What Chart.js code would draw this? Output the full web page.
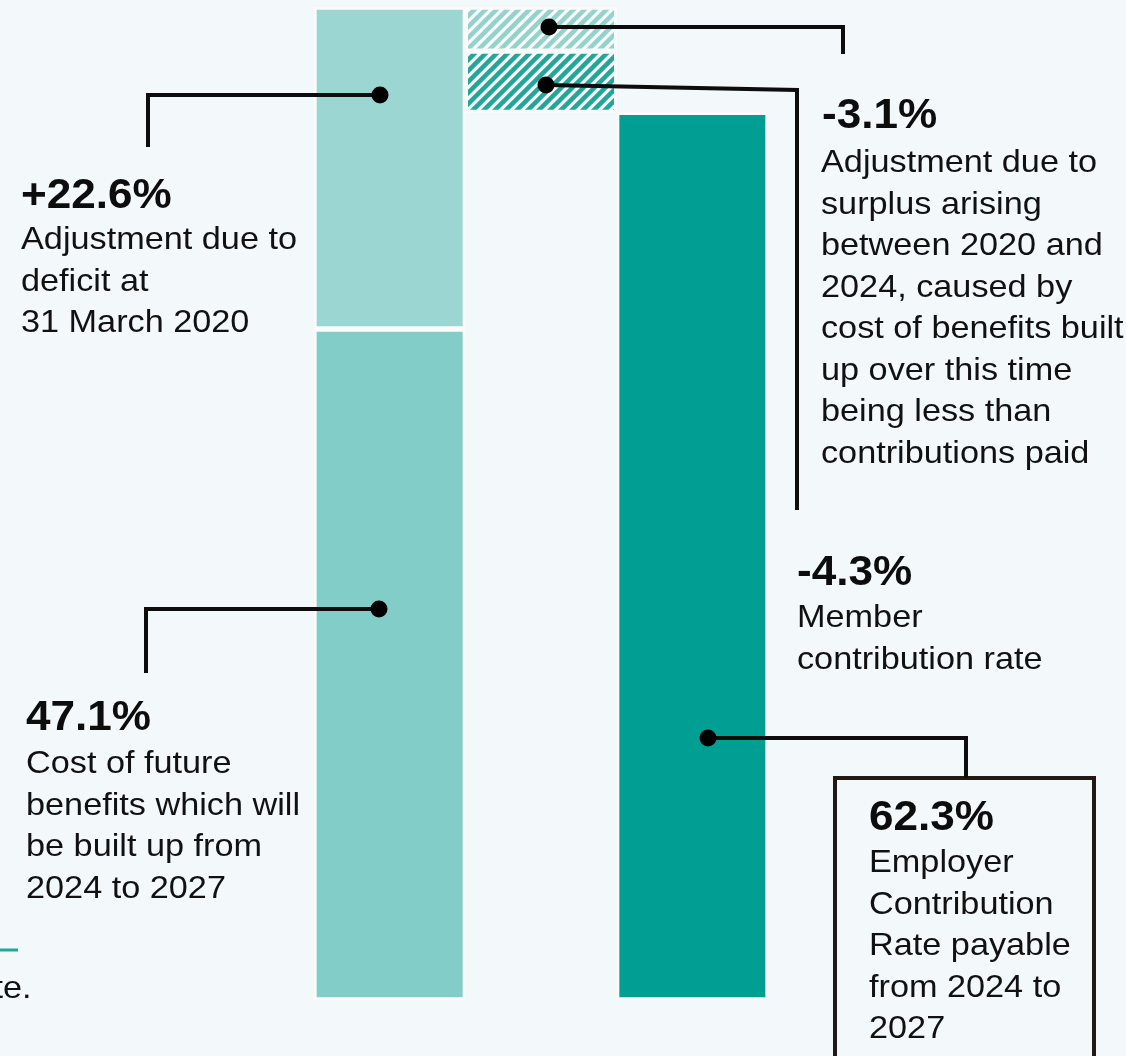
<!DOCTYPE html>
<html>
<head>
<meta charset="utf-8">
<script src="https://cdn.jsdelivr.net/npm/chart.js@4.4.1/dist/chart.umd.min.js"></script>
<style>
  html, body { margin: 0; padding: 0; background: #f3f8fa; overflow: hidden; }
  #wrap { width: 1126px; height: 1056px; }
</style>
</head>
<body>
<div id="wrap"><canvas id="chart" width="1126" height="1056"></canvas></div>
<script>
// ─── Data ─────────────────────────────────────────────────────────────────────

const columns = ['Cost and deficit', 'Adjustments', 'Employer rate'];

const componentNames  = [
  'Cost of future benefits',
  'Adjustment due to deficit',
  'Adjustment due to surplus',
  'Member contribution rate',
  'Employer Contribution Rate',
];
const componentValues = [47.1, 22.6, -3.1, -4.3, 62.3];
const componentColumn = [0, 0, 1, 1, 2];
const componentIsTotal = [false, false, false, false, true];

// ─── Hatch patterns ───────────────────────────────────────────────────────────

function makeHatch(color) {
  const s = 11;
  const c = document.createElement('canvas');
  c.width = s;
  c.height = s;
  const g = c.getContext('2d');
  g.fillStyle = '#fbfbfb';
  g.fillRect(0, 0, s, s);
  g.strokeStyle = color;
  g.lineWidth = 4.5;
  g.beginPath();
  g.moveTo(-2, 2);     g.lineTo(2, -2);
  g.moveTo(0, s);      g.lineTo(s, 0);
  g.moveTo(s - 2, s + 2); g.lineTo(s + 2, s - 2);
  g.stroke();
  return g.createPattern(c, 'repeat');
}

const fills = [
  '#82cdc8',
  '#9bd6d2',
  makeHatch('#93d2cd'),
  makeHatch('#22a69a'),
  '#009e93',
];

// waterfall ranges from the component values
let running = 0;
const ranges = componentValues.map((v, i) => {
  if (componentIsTotal[i]) return [0, v];
  const start = running;
  running = Math.round((running + v) * 10) / 10;
  return [Math.min(start, running), Math.max(start, running)];
});
const topValue = Math.max(...ranges.map(r => r[1]));

const datasets = componentNames.map((name, i) => ({
  label: name,
  data: columns.map((_, c) => (c === componentColumn[i] ? ranges[i] : null)),
  backgroundColor: fills[i],
  borderColor: '#fbfbfb',
  borderWidth: 3,
  borderSkipped: false,
  barPercentage: 1,
  categoryPercentage: 1,
}));

// ─── Callouts ─────────────────────────────────────────────────────────────────

const callouts = [
  { dot: [380, 95],  path: [[148, 95], [148, 147]],
    head: '+22.6%', hx: 21, hy: 208,
    lines: ['Adjustment due to', 'deficit at', '31 March 2020'], lx: 21, ly: 249 },
  { dot: [379, 609], path: [[146, 609], [146, 673]],
    head: '47.1%', hx: 26, hy: 730,
    lines: ['Cost of future', 'benefits which will', 'be built up from', '2024 to 2027'], lx: 26, ly: 773 },
  { dot: [549, 27],  path: [[843, 27], [843, 54]],
    head: '-3.1%', hx: 822, hy: 128,
    lines: ['Adjustment due to', 'surplus arising', 'between 2020 and', '2024, caused by',
            'cost of benefits built', 'up over this time', 'being less than', 'contributions paid'],
    lx: 821, ly: 172 },
  { dot: [546, 85],  path: [[797, 90], [797, 510]],
    head: '-4.3%', hx: 797, hy: 585,
    lines: ['Member', 'contribution rate'], lx: 797, ly: 627 },
  { dot: [708, 738], path: [[966, 738], [966, 778]],
    head: '62.3%', hx: 869, hy: 830,
    lines: ['Employer', 'Contribution', 'Rate payable', 'from 2024 to', '2027'], lx: 869, ly: 872 },
];

function stretchText(ctx, txt, x, y, sx) {
  ctx.save();
  ctx.translate(x, y);
  ctx.scale(sx, 1);
  ctx.fillText(txt, 0, 0);
  ctx.restore();
}

const backgroundPlugin = {
  id: 'pageBackground',
  beforeDraw(chart) {
    const ctx = chart.ctx;
    ctx.save();
    ctx.fillStyle = '#f3f8fa';
    ctx.fillRect(0, 0, chart.width, chart.height);
    ctx.restore();
  },
};

const calloutPlugin = {
  id: 'callouts',
  afterDraw(chart) {
    const ctx = chart.ctx;
    ctx.save();

    // box round the employer rate label
    ctx.strokeStyle = '#231815';
    ctx.lineWidth = 4;
    ctx.strokeRect(835, 778, 259, 400);

    callouts.forEach(c => {
      ctx.strokeStyle = '#0d0d0d';
      ctx.lineWidth = 4;
      ctx.lineJoin = 'miter';
      ctx.beginPath();
      ctx.moveTo(c.dot[0], c.dot[1]);
      c.path.forEach(p => ctx.lineTo(p[0], p[1]));
      ctx.stroke();

      ctx.fillStyle = '#000';
      ctx.beginPath();
      ctx.arc(c.dot[0], c.dot[1], 8.5, 0, Math.PI * 2);
      ctx.fill();

      ctx.textBaseline = 'alphabetic';
      ctx.fillStyle = '#0d0d0d';
      ctx.font = 'bold 42px "Liberation Sans", Arial, sans-serif';
      stretchText(ctx, c.head, c.hx, c.hy, 1.05);

      ctx.fillStyle = '#111';
      ctx.font = '32px "Liberation Sans", Arial, sans-serif';
      c.lines.forEach((t, i) => stretchText(ctx, t, c.lx, c.ly + i * 41.5, 1.07));
    });

    // cropped page fragment at bottom left
    ctx.strokeStyle = '#1ea89c';
    ctx.lineWidth = 3;
    ctx.beginPath();
    ctx.moveTo(0, 950);
    ctx.lineTo(18, 950);
    ctx.stroke();
    ctx.fillStyle = '#111';
    ctx.font = '32px "Liberation Sans", Arial, sans-serif';
    stretchText(ctx, 'te.', -6.5, 998, 1.07);

    ctx.restore();
  },
};

new Chart(document.getElementById('chart'), {
  type: 'bar',
  data: { labels: columns, datasets },
  options: {
    responsive: false,
    animation: false,
    devicePixelRatio: 1,
    layout: { padding: { left: 314, right: 358, top: 7, bottom: 56 } },
    plugins: {
      legend: { display: false },
      tooltip: { enabled: false },
      title: { display: false },
    },
    scales: {
      x: { display: false, stacked: true, grid: { display: false } },
      y: { display: false, stacked: false, min: 0, max: topValue },
    },
  },
  plugins: [backgroundPlugin, calloutPlugin],
});
</script>
</body>
</html>
